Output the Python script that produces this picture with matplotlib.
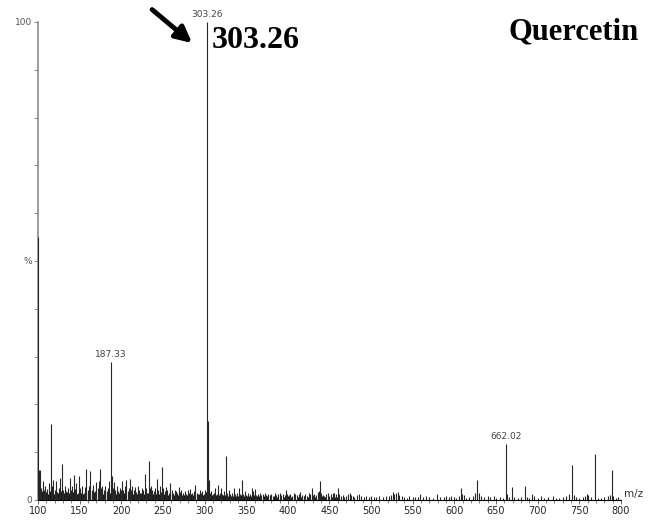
import numpy as np
import matplotlib
matplotlib.use("Agg")
import matplotlib.pyplot as plt

# ESI mass spectrum, m/z vs relative abundance (%)
mz = [
    100.3, 100.9, 102.0, 104.0, 106.0, 107.0, 109.0, 111.0, 113.0, 115.6,
    116.5, 118.0, 120.0, 121.5, 123.0, 125.0, 127.0, 129.0, 130.5, 132.0,
    134.0, 136.0, 138.0, 139.5, 141.0, 143.0, 144.5, 146.0, 148.0, 149.0,
    151.0, 153.0, 155.0, 156.5, 158.0, 159.5, 161.0, 163.0, 164.5, 166.0,
    168.0, 170.0, 171.5, 173.0, 174.0, 175.5, 177.0, 179.0, 181.0, 182.5,
    184.0, 185.5, 187.33, 188.3, 190.0, 191.5, 193.0, 195.0, 196.5, 198.0,
    199.5, 201.0, 202.5, 204.0, 206.0, 207.5, 209.0, 210.0, 211.5, 213.0,
    215.0, 216.5, 218.0, 220.0, 221.5, 223.0, 225.0, 226.5, 228.0, 229.5,
    231.0, 233.0, 234.5, 236.0, 237.5, 239.0, 241.0, 243.0, 244.5, 246.0,
    247.5, 249.0, 250.5, 252.0, 253.5, 255.0, 257.0, 259.0, 260.5, 262.0,
    264.0, 266.0, 267.5, 269.0, 270.5, 272.0, 274.0, 276.0, 278.0, 280.0,
    281.5, 283.0, 285.0, 287.0, 289.0, 290.5, 292.0, 294.0, 295.5, 297.0,
    299.0, 300.5, 302.0, 303.26, 304.26, 305.2, 306.5, 308.0, 310.0, 311.5,
    313.0, 315.0, 316.5, 318.0, 320.0, 321.5, 323.0, 325.7, 327.0, 329.0,
    331.0, 333.0, 335.0, 337.0, 339.0, 341.0, 342.5, 344.5, 346.0, 348.0,
    350.0, 352.0, 354.0, 357.0, 358.5, 360.0, 362.0, 364.0, 366.0, 368.0,
    370.0, 372.0, 374.0, 376.0, 378.0, 380.0, 382.0, 384.0, 386.0, 388.0,
    390.0, 392.0, 394.0, 396.0, 397.7, 399.0, 401.0, 403.0, 405.0, 407.0,
    409.0, 411.0, 413.0, 415.0, 417.0, 419.0, 421.0, 423.0, 425.0, 427.0,
    428.6, 430.0, 432.0, 434.0, 436.0, 437.5, 438.5, 440.0, 442.0, 444.0,
    446.0, 448.0, 450.0, 452.0, 454.0, 456.0, 458.0, 460.5, 462.0, 464.0,
    466.0, 468.0, 470.0, 472.0, 474.5, 476.0, 478.0, 480.0, 483.0, 486.0,
    488.0, 491.0, 494.0, 497.0, 500.0, 503.0, 506.0, 510.0, 514.0, 518.0,
    521.0, 524.0, 526.0, 528.0, 530.0, 532.0, 534.0, 537.0, 540.0, 543.0,
    546.0, 550.0, 553.0, 556.0, 559.0, 562.0, 566.0, 570.0, 574.0, 579.0,
    583.0, 587.0, 590.0, 593.0, 596.0, 599.0, 602.0, 605.0, 607.8, 609.0,
    611.0, 614.0, 618.0, 622.0, 625.0, 627.4, 629.0, 632.0, 636.0, 640.0,
    643.0, 647.0, 650.0, 655.0, 658.0, 662.02, 663.5, 665.0, 668.6, 672.0,
    676.0, 680.0, 684.6, 687.0, 690.0, 692.7, 696.0, 700.0, 704.0, 708.0,
    712.0, 718.0, 722.0, 726.0, 730.0, 734.0, 737.0, 741.4, 743.0, 746.0,
    750.0, 754.0, 757.0, 759.0, 761.0, 764.0, 769.0, 772.0, 776.0, 780.0,
    784.0, 787.0, 789.4, 791.0, 794.0, 797.0, 799.8,
]
intensity = [
    55.0, 6.3, 6.3, 2.5, 4.0, 2.0, 3.0, 2.2, 3.5, 15.9,
    3.0, 4.2, 2.0, 4.0, 1.5, 2.5, 4.5, 7.5, 2.0, 3.0,
    1.8, 2.5, 4.6, 2.0, 3.0, 5.2, 2.2, 3.5, 1.5, 5.0,
    2.5, 3.0, 1.5, 2.8, 6.5, 2.0, 3.0, 6.0, 2.0, 3.2,
    1.8, 3.8, 2.5, 4.0, 6.5, 2.5, 3.0, 2.0, 3.0, 1.8,
    2.5, 4.0, 28.9, 5.0, 2.5, 3.8, 2.0, 3.0, 1.8, 2.5,
    2.0, 4.0, 2.0, 3.0, 4.2, 1.8, 2.5, 4.4, 2.0, 3.0,
    2.0, 2.7, 1.6, 3.0, 2.0, 1.5, 2.5, 2.0, 5.4, 2.5,
    1.5, 8.1, 2.5, 3.0, 2.0, 1.8, 2.5, 4.4, 2.0, 3.0,
    1.6, 7.0, 2.5, 1.8, 2.8, 2.0, 1.5, 3.6, 2.0, 1.5,
    2.0, 1.8, 1.4, 2.7, 1.6, 2.0, 1.5, 1.8, 1.3, 2.0,
    1.5, 2.2, 1.4, 1.8, 3.1, 1.5, 1.2, 2.0, 1.4, 1.8,
    1.2, 2.0, 1.7, 100.0, 16.6, 4.2, 1.5, 1.8, 1.2, 1.5,
    2.5, 1.2, 3.1, 1.4, 2.5, 1.2, 1.8, 9.2, 1.5, 2.0,
    1.2, 1.5, 2.5, 1.2, 1.5, 2.5, 1.2, 4.2, 1.3, 1.8,
    1.0, 1.5, 1.2, 2.5, 1.8, 2.3, 1.0, 1.3, 1.5, 1.0,
    1.2, 1.4, 1.0, 1.3, 1.0, 1.2, 0.8, 1.5, 1.0, 1.2,
    1.5, 1.0, 1.2, 1.0, 2.0, 1.2, 1.0, 1.3, 0.8, 1.5,
    1.2, 1.0, 1.3, 1.7, 1.0, 0.8, 1.2, 0.8, 1.4, 1.2,
    2.5, 1.0, 1.3, 1.1, 1.6, 1.8, 4.0, 1.5, 1.0, 0.8,
    1.2, 1.4, 0.8, 1.2, 1.4, 1.5, 1.2, 2.5, 1.3, 0.8,
    1.0, 0.7, 0.9, 1.3, 1.5, 1.0, 0.8, 0.7, 1.0, 1.3,
    0.9, 0.7, 0.8, 0.7, 0.8, 0.6, 0.7, 0.8, 0.7, 0.9,
    0.8, 1.0, 1.7, 1.2, 1.5, 1.7, 1.0, 0.8, 0.6, 0.5,
    0.8, 0.6, 0.7, 0.6, 1.2, 0.6, 0.8, 0.6, 0.5, 1.2,
    0.6, 0.6, 0.8, 0.7, 0.8, 0.6, 0.5, 0.8, 2.6, 1.2,
    1.0, 0.5, 0.6, 0.8, 1.4, 4.2, 1.5, 0.8, 0.6, 0.8,
    0.7, 0.8, 0.5, 0.6, 0.4, 11.7, 1.3, 0.7, 2.7, 0.6,
    0.5, 0.7, 2.9, 0.6, 0.5, 1.2, 0.8, 0.5, 0.8, 0.5,
    0.6, 0.8, 0.5, 0.5, 0.7, 0.9, 1.2, 7.3, 1.0, 0.6,
    0.5, 0.7, 0.9, 1.2, 1.0, 0.6, 9.6, 0.5, 0.5, 0.6,
    0.9, 1.0, 6.3, 0.8, 0.5, 0.6, 1.9,
]

# low-level chemical noise filling the gaps below m/z 460
noise_mz = [
    101.5, 103.0, 105.0, 108.0, 110.0, 112.0, 114.0, 117.3, 119.0, 122.3,
    124.0, 126.0, 128.0, 131.2, 133.0, 135.0, 137.0, 140.2, 142.0, 145.2,
    147.0, 150.0, 152.0, 154.0, 157.3, 160.2, 162.0, 165.2, 167.0, 169.0,
    172.3, 176.2, 178.0, 180.0, 183.2, 186.2, 189.0, 192.2, 194.0, 197.2,
    200.2, 203.2, 205.0, 208.2, 212.2, 214.0, 217.2, 219.0, 222.2, 224.0,
    227.2, 230.2, 232.0, 235.2, 238.2, 240.0, 242.0, 245.2, 248.2, 251.2,
    254.2, 256.0, 258.0, 261.2, 263.0, 265.0, 268.2, 271.2, 273.0, 275.0,
    277.0, 279.0, 282.2, 284.0, 286.0, 288.0, 291.2, 293.0, 296.2, 298.0,
    301.2, 307.2, 309.0, 312.2, 314.0, 317.2, 319.0, 322.2, 324.0, 328.0,
    330.0, 332.0, 334.0, 336.0, 338.0, 340.0, 343.5, 347.0, 349.0, 351.0,
    353.0, 355.5, 359.3, 361.0, 363.0, 365.0, 367.0, 371.0, 375.0, 379.0,
    383.0, 387.0, 391.0, 395.0, 400.0, 404.0, 408.0, 412.0, 416.0, 420.0,
    424.0, 429.3, 433.0, 439.3, 441.0, 445.0, 449.0, 453.0, 457.0, 459.0,
]
noise_int = [
    1.5, 1.2, 1.8, 1.4, 1.6, 1.3, 1.9, 1.5, 1.2, 1.7,
    1.4, 1.3, 1.8, 1.5, 1.2, 1.6, 1.4, 1.3, 1.7, 1.5,
    1.2, 1.6, 1.4, 1.3, 1.8, 1.2, 1.5, 1.3, 1.6, 1.2,
    1.4, 1.5, 1.3, 1.6, 1.2, 1.4, 1.3, 1.5, 1.2, 1.4,
    1.3, 1.5, 1.2, 1.4, 1.3, 1.2, 1.5, 1.3, 1.2, 1.4,
    1.3, 1.2, 1.5, 1.3, 1.2, 1.4, 1.3, 1.2, 1.4, 1.2,
    1.3, 1.1, 1.2, 1.3, 1.0, 1.2, 1.1, 1.2, 1.0, 1.1,
    1.2, 1.0, 1.1, 1.2, 1.0, 1.1, 1.0, 1.2, 1.0, 1.1,
    1.0, 1.1, 1.0, 0.9, 1.1, 1.0, 0.9, 1.0, 1.1, 0.9,
    1.0, 0.9, 0.8, 1.0, 0.9, 0.8, 1.0, 0.9, 0.8, 0.9,
    0.8, 0.9, 1.0, 0.8, 0.9, 0.8, 0.7, 0.8, 0.9, 0.7,
    0.8, 0.7, 0.8, 0.7, 0.8, 0.7, 0.8, 0.7, 0.6, 0.8,
    0.7, 0.8, 0.7, 0.9, 0.8, 0.7, 0.6, 0.7, 0.6, 0.7,
]

# labelled peaks
peak_labels = [187.33, 303.26, 662.02]

xticks_major = list(range(100, 801, 50))
yticks = list(range(0, 101, 10))
ytick_labels = ['0', '', '', '', '', '%', '', '', '', '', '100']

fig = plt.figure(figsize=(6.48, 5.2), dpi=100)
ax = fig.add_axes([0.0586, 0.0385, 0.8997, 0.9192])

ax.vlines(noise_mz, 0, noise_int, color='#1a1a1a', lw=0.8, zorder=3)
ax.vlines(mz, 0, intensity, color='#262626', lw=0.8, zorder=3)

ax.set_xlim(100, 800)
ax.set_ylim(0, 100)

for s in ['top', 'right']:
    ax.spines[s].set_visible(False)
ax.spines['left'].set_color('#8a8a8a')
ax.spines['left'].set_linewidth(1.2)
ax.spines['bottom'].set_color('black')
ax.spines['bottom'].set_linewidth(0.8)

ax.set_xticks(xticks_major)
ax.set_xticks(list(range(100, 801, 10)), minor=True)
ax.set_yticks(yticks)
ax.set_yticklabels(ytick_labels)
ax.tick_params(axis='x', which='major', length=3, width=0.6, color='#555',
               labelsize=7, labelcolor='#222', pad=1)
ax.tick_params(axis='x', which='minor', length=2, width=0.5, color='#555')
ax.tick_params(axis='y', length=3, width=0.6, color='#777',
               labelsize=6.5, labelcolor='#555', pad=1)

ax.text(1.005, 0.012, 'm/z', transform=ax.transAxes, fontsize=7.5,
        color='#333', ha='left', va='center')

for p in peak_labels:
    h = intensity[mz.index(p)]
    ax.text(p, h + 0.6, f'{p:.2f}', fontsize=6.5, color='#444',
            ha='center', va='bottom', clip_on=False)

serif = 'Liberation Serif'
ax.text(309, 96.2, '303.26', fontsize=23, fontweight='bold', family=serif,
        ha='left', va='center')
ax.text(665.4, 97.9, 'Quercetin', fontsize=22, fontweight='bold', family=serif,
        ha='left', va='center', clip_on=False)

ax.annotate('', xy=(285, 95.6), xytext=(237, 102.6), annotation_clip=False,
            arrowprops=dict(arrowstyle='-|>', lw=3.5, color='black',
                            mutation_scale=24, shrinkA=0, shrinkB=0))

fig.savefig('out.png', dpi=100)
